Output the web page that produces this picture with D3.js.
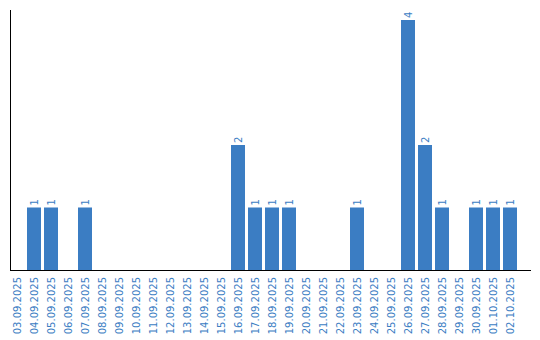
<!DOCTYPE html>
<html>
<head>
<meta charset="utf-8">
<script src="https://cdn.jsdelivr.net/npm/d3@7"></script>
<style>
  body { margin: 0; background: #fff; }
  svg { display: block; }
  svg text { font-family: "DejaVu Sans", sans-serif; font-size: 10px; }
</style>
</head>
<body>
<svg id="chart" width="540" height="340"></svg>
<script>
const dates = [
  "03.09.2025", "04.09.2025", "05.09.2025", "06.09.2025", "07.09.2025", "08.09.2025",
  "09.09.2025", "10.09.2025", "11.09.2025", "12.09.2025", "13.09.2025", "14.09.2025",
  "15.09.2025", "16.09.2025", "17.09.2025", "18.09.2025", "19.09.2025", "20.09.2025",
  "21.09.2025", "22.09.2025", "23.09.2025", "24.09.2025", "25.09.2025", "26.09.2025",
  "27.09.2025", "28.09.2025", "29.09.2025", "30.09.2025", "01.10.2025", "02.10.2025"
];
const counts = [0, 1, 1, 0, 1, 0, 0, 0, 0, 0, 0, 0, 0, 2, 1, 1, 1, 0, 0, 0, 1, 0, 0, 4, 2, 1, 0, 1, 1, 1];

const blue = "#3b7dc3";
const svg = d3.select("#chart");
const left = 10, right = 517, base = 270;

const x = d3.scaleBand().domain(dates).range([left, right]).paddingInner(3 / 17).paddingOuter(0);
const y = d3.scaleLinear().domain([0, 4]).range([base, 20]);

const data = dates.map((d, i) => ({ date: d, value: counts[i] }));
const filled = data.filter(d => d.value > 0);

svg.selectAll("rect.bar").data(filled).join("rect")
  .attr("class", "bar")
  .attr("x", d => x(d.date))
  .attr("y", d => y(d.value))
  .attr("width", x.bandwidth())
  .attr("height", d => y(0) - y(d.value))
  .attr("fill", blue);

svg.selectAll("text.val").data(filled).join("text")
  .attr("class", "val")
  .attr("transform", d => `translate(${x(d.date) + x.bandwidth() / 2},${y(d.value) - 2}) rotate(-90)`)
  .attr("dy", "0.35em")
  .attr("fill", blue)
  .text(d => d.value);

svg.selectAll("text.tick").data(dates).join("text")
  .attr("class", "tick")
  .attr("transform", d => `translate(${x(d) + x.bandwidth() / 2},${base + 7}) rotate(-90)`)
  .attr("text-anchor", "end")
  .attr("dy", "0.35em")
  .attr("fill", blue)
  .text(d => d);

// axis lines
svg.append("line").attr("x1", left + 0.5).attr("x2", left + 0.5).attr("y1", 10).attr("y2", base + 1)
  .attr("stroke", "#000");
svg.append("line").attr("x1", left).attr("x2", 531).attr("y1", base + 0.5).attr("y2", base + 0.5)
  .attr("stroke", "#000");
</script>
</body>
</html>
